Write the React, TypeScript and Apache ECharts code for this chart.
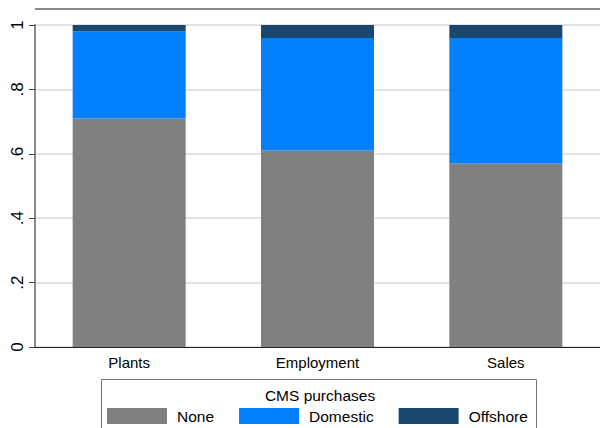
import React, { useEffect, useRef } from "react";
import * as echarts from "echarts";

const categories = ["Plants", "Employment", "Sales"];
const noneValues = [0.71, 0.61, 0.57];
const domesticValues = [0.27, 0.35, 0.39];
const offshoreValues = [0.02, 0.04, 0.04];
const yTickValues = [0, 0.2, 0.4, 0.6, 0.8, 1];
const yTickLabels = ["0", ".2", ".4", ".6", ".8", "1"];
const seriesNames = ["None", "Domestic", "Offshore"];
const legendTitle = "CMS purchases";

const FONT = "Liberation Sans, Arial, sans-serif";

export default function App() {
  const ref = useRef<HTMLDivElement>(null);
  useEffect(() => {
    document.body.style.margin = "0";
    if (!ref.current) return;
    const chart = echarts.init(ref.current, null, { renderer: "svg" });
    const colors = ["#808080", "#007fff", "#1a476f"];
    const data = [noneValues, domesticValues, offshoreValues];
    chart.setOption({
      animation: false,
      textStyle: { fontFamily: FONT },
      grid: { left: 35, top: 25, width: 570, height: 322 },
      xAxis: {
        type: "category",
        data: categories,
        axisTick: { show: false },
        axisLine: { lineStyle: { color: "#222", width: 1 } },
        axisLabel: { color: "#000", fontSize: 15, margin: 8, fontFamily: FONT },
      },
      yAxis: {
        type: "value",
        min: 0,
        max: 1,
        interval: 0.2,
        axisLine: { show: true, lineStyle: { color: "#8a8a8a", width: 2 } },
        axisTick: { show: true, length: 6, lineStyle: { color: "#444" } },
        splitLine: { show: true, lineStyle: { color: "#e3e3e3", width: 2 } },
        axisLabel: {
          color: "#000",
          fontSize: 17,
          rotate: 90,
          margin: 9,
          fontFamily: FONT,
          formatter: (v: number) => {
            const i = yTickValues.findIndex((t) => Math.abs(t - v) < 1e-6);
            return i >= 0 ? yTickLabels[i] : "";
          },
        },
      },
      legend: {
        left: 107,
        top: 408,
        padding: 0,
        itemWidth: 60,
        itemHeight: 16,
        itemGap: 25,
        icon: "rect",
        data: seriesNames,
        textStyle: { fontSize: 15.5, color: "#000", padding: [0, 0, 0, 5], fontFamily: FONT },
      },
      graphic: [
        {
          type: "line",
          shape: { x1: 35, y1: 9, x2: 605, y2: 9 },
          style: { stroke: "#8a8a8a", lineWidth: 2 },
          silent: true,
        },
        {
          type: "rect",
          shape: { x: 101.5, y: 379.5, width: 435, height: 60 },
          style: { fill: "none", stroke: "#777", lineWidth: 1 },
          silent: true,
        },
        {
          type: "text",
          x: 320,
          y: 395,
          style: {
            text: legendTitle,
            fontSize: 15.5,
            fill: "#000",
            fontFamily: FONT,
            align: "center",
            verticalAlign: "middle",
          },
          silent: true,
        },
      ],
      series: seriesNames.map((name, i) => ({
        name,
        type: "bar",
        stack: "total",
        barWidth: "60%",
        data: data[i],
        itemStyle: { color: colors[i] },
      })),
    });
    return () => chart.dispose();
  }, []);
  return <div ref={ref} style={{ width: 600, height: 428 }} />;
}
